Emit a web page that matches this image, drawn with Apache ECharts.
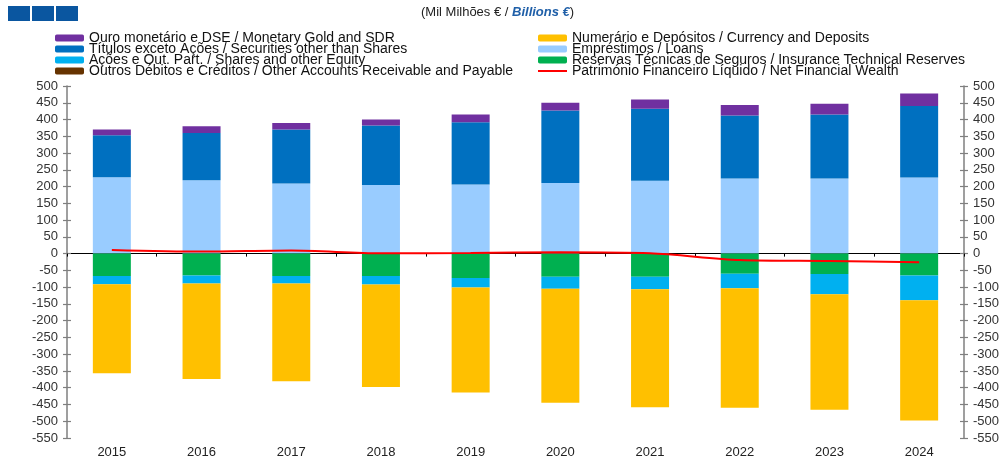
<!DOCTYPE html>
<html>
<head>
<meta charset="utf-8">
<script src="https://cdn.jsdelivr.net/npm/echarts@6/dist/echarts.min.js"></script>
<style>
  html, body { margin: 0; padding: 0; background: #fff; }
  #chart { width: 1004px; height: 459px; }
</style>
</head>
<body>
<div id="chart"></div>
<script>
// Years on the category axis
const years = ['2015', '2016', '2017', '2018', '2019', '2020', '2021', '2022', '2023', '2024'];

// Assets (positive side), billions of euro
const gold       = [17, 20, 20, 18, 23, 23, 28, 31, 32, 38];
const securities = [125, 141, 161, 177, 186, 216, 215, 188, 191, 213];
const loans      = [228, 219, 209, 205, 206, 211, 217, 224, 224, 227];

// Liabilities (negative side), billions of euro
const insurance  = [-67, -65, -67, -67, -73, -69, -69, -60, -61, -65];
const shares     = [-24, -24, -22, -25, -28, -36, -37, -43, -60, -74];
const currency   = [-266, -285, -292, -306, -313, -340, -352, -357, -345, -359];
const otherAcc   = [0, 0, 0, 0, 0, 0, 0, 0, 0, 0];

// Net financial wealth
const netWealth  = [11, 6, 9, 1, 2, 4, 1, -19, -22, -26];

// Series names as shown in the legend
const names = {
  gold: 'Ouro monetário e DSE / Monetary Gold and SDR',
  currency: 'Numerário e Depósitos / Currency and Deposits',
  securities: 'Títulos exceto Ações / Securities other than Shares',
  loans: 'Empréstimos / Loans',
  shares: 'Ações e Out. Part. / Shares and other Equity',
  insurance: 'Reservas Técnicas de Seguros / Insurance Technical Reserves',
  other: 'Outros Débitos e Créditos / Other Accounts Receivable and Payable',
  net: 'Património Financeiro Líquido / Net Financial Wealth'
};

const FONT = '"Liberation Sans", Arial, sans-serif';
const Y_MIN = -550, Y_MAX = 500, Y_STEP = 50;

function valueAxis(pos, showLabel, inside) {
  return {
    type: 'value', position: pos, min: Y_MIN, max: Y_MAX, interval: Y_STEP,
    splitLine: { show: false },
    axisLine: { show: !inside, lineStyle: { color: '#7f7f7f', width: 1.5 } },
    axisTick: { show: true, inside: inside, length: 4, lineStyle: { color: '#7f7f7f', width: 1.2 } },
    axisLabel: { show: showLabel, color: '#333', fontFamily: FONT, fontSize: 13, margin: 9 }
  };
}

function bar(name, data, color) {
  return {
    name: name, type: 'bar', stack: 'total', data: data,
    barWidth: 38, xAxisIndex: 0, yAxisIndex: 0,
    itemStyle: { color: color }
  };
}

const chart = echarts.init(document.getElementById('chart'), null, { renderer: 'canvas' });

const legendText = { fontFamily: FONT, fontSize: 14, color: '#111' };
// thin horizontal bar used as the legend key of the line series
const lineIcon = 'path://M0,0L100,0L100,7L0,7Z';

chart.setOption({
  animation: false,
  backgroundColor: '#fff',
  grid: { left: 67, right: 40, top: 86, bottom: 21, containLabel: false },
  graphic: [
    { type: 'rect', left: 8, top: 6, shape: { width: 22, height: 15 }, style: { fill: '#0a56a0' } },
    { type: 'rect', left: 32, top: 6, shape: { width: 22, height: 15 }, style: { fill: '#0a56a0' } },
    { type: 'rect', left: 56, top: 6, shape: { width: 22, height: 15 }, style: { fill: '#0a56a0' } },
    {
      type: 'text', left: 421, top: 6,
      style: {
        text: '(Mil Milhões € / {b|Billions €})',
        font: '13px ' + FONT, fill: '#222',
        rich: { b: { fontFamily: FONT, fontSize: 13, fontWeight: 'bold', fontStyle: 'italic', fill: '#1f5fa8' } }
      }
    }
  ],
  legend: [
    {
      orient: 'vertical', left: 55, top: 31, padding: 0, itemGap: -3,
      itemWidth: 29, itemHeight: 7, textStyle: legendText,
      data: [names.gold, names.securities, names.shares, names.other]
    },
    {
      orient: 'vertical', left: 538, top: 31, padding: 0, itemGap: -3,
      itemWidth: 29, itemHeight: 7, textStyle: legendText,
      data: [names.currency, names.loans, names.insurance, { name: names.net, icon: lineIcon }]
    }
  ],
  xAxis: [
    {
      type: 'category', data: years, position: 'bottom',
      axisLine: { show: false, onZero: false }, axisTick: { show: false },
      axisLabel: { color: '#222', fontFamily: FONT, fontSize: 13, margin: 8 }
    },
    {
      type: 'category', data: years, position: 'bottom',
      axisLine: { show: true, onZero: true, lineStyle: { color: '#000', width: 1.2 } },
      axisTick: { show: true, length: 3, lineStyle: { color: '#000' } },
      axisLabel: { show: false }
    }
  ],
  yAxis: [
    valueAxis('left', true, false),
    valueAxis('right', true, false),
    valueAxis('left', false, true),
    valueAxis('right', false, true)
  ],
  series: [
    bar(names.loans, loans, '#99ccff'),
    bar(names.securities, securities, '#0070c0'),
    bar(names.gold, gold, '#7030a0'),
    bar(names.insurance, insurance, '#00b050'),
    bar(names.shares, shares, '#00b0f0'),
    bar(names.currency, currency, '#ffc000'),
    bar(names.other, otherAcc, '#663300'),
    {
      name: names.net, type: 'line', data: netWealth,
      xAxisIndex: 0, yAxisIndex: 0, smooth: 0.3,
      symbol: 'none', showSymbol: false, z: 5,
      lineStyle: { color: '#ff0000', width: 2 },
      itemStyle: { color: '#ff0000' }
    }
  ]
});
</script>
</body>
</html>
